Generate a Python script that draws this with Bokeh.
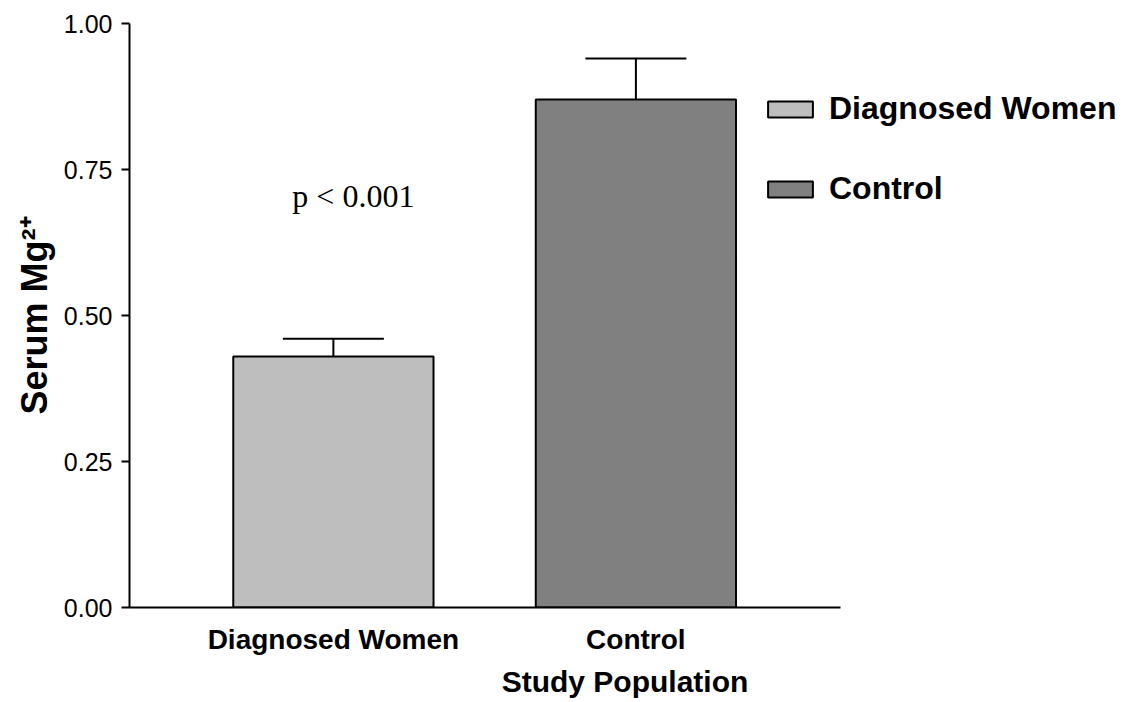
from bokeh.plotting import figure
from bokeh.models import (ColumnDataSource, Range1d, FixedTicker, Whisker, TeeHead,
                          Label, NumeralTickFormatter)
from bokeh.embed import file_html
from bokeh.resources import INLINE

# ---- data ----
groups = ["Diagnosed Women", "Control"]
positions = [1, 2]
means = [0.43, 0.87]
errors = [0.03, 0.07]
colors = ["#BEBEBE", "#808080"]
y_ticks = [0.0, 0.25, 0.5, 0.75, 1.0]
annotation_text = "p < 0.001"
annotation_pos = (1.066, 0.705)

source = ColumnDataSource(dict(
    x=positions, group=groups, mean=means,
    upper=[m + e for m, e in zip(means, errors)],
    color=colors,
))

p = figure(width=1125, height=702, output_backend="svg", toolbar_location=None,
           x_range=Range1d(0.326, 3.602), y_range=Range1d(0, 1),
           min_border_left=129, min_border_right=5, min_border_top=23, min_border_bottom=95)
p.outline_line_color = None
p.xgrid.visible = False
p.ygrid.visible = False
p.background_fill_color = "white"

p.vbar(x="x", top="mean", bottom=0, width=0.662, source=source,
       fill_color="color", line_color="black", line_width=2, legend_field="group")

w = Whisker(base="x", upper="upper", lower="mean", source=source,
            upper_head=TeeHead(size=101, line_width=2, line_color="black"),
            lower_head=None, line_width=2, line_color="black")
p.add_layout(w)

p.add_layout(Label(x=annotation_pos[0], y=annotation_pos[1], text=annotation_text,
                   text_align="center", text_baseline="alphabetic",
                   text_font="Liberation Serif", text_font_size="32px", text_color="black"))

# y axis
ya = p.yaxis[0]
ya.ticker = FixedTicker(ticks=y_ticks)
ya.formatter = NumeralTickFormatter(format="0.00")
ya.bounds = (0, 1)
ya.axis_line_width = 2
ya.major_tick_line_width = 2
ya.major_tick_out = 8
ya.major_tick_in = 0
ya.minor_tick_line_color = None
ya.major_label_text_font = "Liberation Sans"
ya.major_label_text_font_size = "25px"
ya.major_label_text_color = "black"
ya.major_label_standoff = 9
ya.axis_label = "Serum Mg\u00b2\u207a"
ya.axis_label_text_font = "Liberation Sans"
ya.axis_label_text_font_style = "bold"
ya.axis_label_text_font_size = "36px"
ya.axis_label_text_color = "black"
ya.axis_label_standoff = 6

# x axis
xa = p.xaxis[0]
xa.ticker = FixedTicker(ticks=positions)
xa.major_label_overrides = {pos: g for pos, g in zip(positions, groups)}
xa.bounds = (0.326, 2.676)
xa.axis_line_width = 2
xa.major_tick_line_color = None
xa.minor_tick_line_color = None
xa.major_label_text_font = "Liberation Sans"
xa.major_label_text_font_style = "bold"
xa.major_label_text_font_size = "28px"
xa.major_label_text_color = "black"
xa.major_label_standoff = 10
xa.axis_label = "Study Population"
xa.axis_label_text_font = "Liberation Sans"
xa.axis_label_text_font_style = "bold"
xa.axis_label_text_font_size = "30px"
xa.axis_label_text_color = "black"
xa.axis_label_standoff = 7

# legend
lg = p.legend[0]
lg.location = (633, 400)
lg.glyph_width = 56
lg.glyph_height = 20
lg.label_text_font = "Liberation Sans"
lg.label_text_font_style = "bold"
lg.label_text_font_size = "32px"
lg.label_text_color = "black"
lg.label_standoff = 11
lg.spacing = 43
lg.padding = 0
lg.margin = 0
lg.border_line_color = None
lg.background_fill_alpha = 0

open("out.html", "w").write(file_html(p, INLINE))
